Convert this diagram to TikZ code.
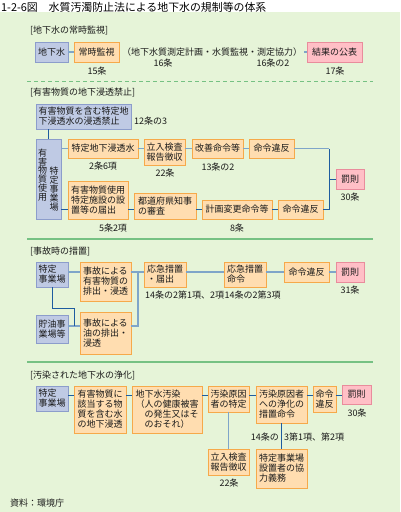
\documentclass[tikz,border=0pt]{standalone}
\usepackage{fontspec}
\setmainfont{Noto Sans CJK JP}
\definecolor{bg}{HTML}{E6F4D8}
\definecolor{bfill}{HTML}{BFCAE4}
\definecolor{bline}{HTML}{8C9DCB}
\definecolor{ofill}{HTML}{FFDDB0}
\definecolor{oline}{HTML}{F6A94A}
\definecolor{pfill}{HTML}{FFBFC6}
\definecolor{pline}{HTML}{E98C9C}
\definecolor{ltblue}{HTML}{7FA5C9}
\definecolor{dkblue}{HTML}{1E5C9F}
\definecolor{sepg}{HTML}{76C183}
\definecolor{txt}{HTML}{1A1A1A}
\newcommand\boxfont{\fontsize{9}{10}\selectfont}
\newcommand\mybox[7]{\node[#2, minimum width={(#5-#3)*1pt}, minimum height={(#6-#4)*1pt}] (#1) at ({(#3+#5)/2},{(#4+#6)/2}) {#7};}
\begin{document}
\begin{tikzpicture}[x=1pt,y=-1pt,
  bx/.style={draw, line width=0.9pt, inner sep=0pt, align=left, font=\boxfont, text=txt},
  bb/.style={bx, fill=bfill, draw=bline},
  ob/.style={bx, fill=ofill, draw=oline},
  pb/.style={bx, fill=pfill, draw=pline},
  lb/.style={inner sep=0pt, font=\boxfont, text=txt},
  lt/.style={draw=ltblue, line width=1.4pt},
  dk/.style={draw=dkblue, line width=1pt},
  sep/.style={draw=sepg, line width=1.6pt}]
\useasboundingbox (0,0) rectangle (400,512);
\fill[bg] (0,12) rectangle (400,512);
\node[anchor=west, inner sep=0pt, font=\fontsize{10.9}{12}\selectfont] (title) at (1,7) {1-2-6図\hspace{1em}水質汚濁防止法による地下水の規制等の体系};

% ---------- section 1
\node[lb, anchor=west] (h1) at (30,30) {[地下水の常時監視]};
\mybox{gw}{bb}{35}{42}{68}{62}{地下水}
\mybox{joji}{ob}{74}{42}{119}{62}{常時監視}
\mybox{kohyo}{pb}{307}{42}{362}{62}{結果の公表}
\node[lb, anchor=west] (kansi) at (122,52) {（地下水質測定計画・水質監視・測定協力）};
\node[lb] (l15) at (97,71) {15条};
\node[lb] (l16) at (163,63) {16条};
\node[lb] (l162) at (273,63) {16条の2};
\node[lb] (l17) at (335,71) {17条};
\draw[lt] (gw.east) -- (joji.west);
\draw[lt] ([xshift=2pt]kansi.east) -- (kohyo.west);
\draw[sepg, line width=1pt, dash pattern=on 4pt off 3pt] (27,81) -- (373,81);

% ---------- section 2
\node[lb, anchor=west] (h2) at (30,92) {[有害物質の地下浸透禁止]};
\mybox{kinshi}{bb}{36}{104}{131}{129}{有害物質を含む特定地\\下浸透水の浸透禁止}
\node[lb, anchor=west] (l123) at (134,121) {12条の3};
\mybox{jigyo}{bb}{36}{139}{61}{219}{}
\node[lb, align=center, font=\fontsize{9}{8.9}\selectfont] (colL) at (42.5,175) {有\\害\\物\\質\\使\\用};
\node[lb, align=center, font=\fontsize{9}{9}\selectfont] (colR) at (54,189) {特\\定\\事\\業\\場};
\mybox{shintou}{ob}{68}{139}{138}{158}{特定地下浸透水}
\node[lb] (l26) at (103,166) {2条6項};
\mybox{tachi1}{ob}{144}{139}{185}{165}{立入検査\\報告徴収}
\node[lb] (l22a) at (165,173) {22条};
\mybox{kaizen}{ob}{192}{139}{243}{158}{改善命令等}
\node[lb] (l132) at (218,167) {13条の2};
\mybox{ihan1}{ob}{249}{139}{294}{158}{命令違反}
\mybox{bassoku1}{pb}{336}{169}{364}{189}{罰則}
\node[lb] (l30a) at (350,197) {30条};
\mybox{todoke}{ob}{68}{181}{128}{219}{有害物質使用\\特定施設の設\\置等の届出}
\node[lb] (l52) at (113,228) {5条2項};
\mybox{shinsa}{ob}{134}{193}{196}{219}{都道府県知事\\の審査}
\mybox{henko}{ob}{202}{200}{272}{219}{計画変更命令等}
\node[lb] (l8) at (237,228) {8条};
\mybox{ihan2}{ob}{278}{200}{323}{219}{命令違反}
\coordinate (j1) at (329,148.5);
\draw[dk] (kinshi.south -| jigyo.north) -- (jigyo.north);
\draw[lt] (shintou.west -| jigyo.east) -- (shintou.west);
\draw[lt] (shintou.east) -- (shintou.east -| tachi1.west);
\draw[lt] (kaizen.west -| tachi1.east) -- (kaizen.west);
\draw[lt] (kaizen.east) -- (ihan1.west);
\draw[lt] (ihan1.east) -- (j1);
\draw[dk] (j1) -- (j1 |- ihan2.east) -- (ihan2.east);
\draw[dk] (j1 |- bassoku1.west) -- (bassoku1.west);
\draw[dk] (jigyo.east |- henko.west) -- (todoke.west |- henko.west);
\draw[dk] (todoke.east |- henko.west) -- (shinsa.west |- henko.west);
\draw[dk] (shinsa.east |- henko.west) -- (henko.west);
\draw[dk] (henko.east) -- (ihan2.west);
\draw[sep] (27,239) -- (373,239);

% ---------- section 3
\node[lb, anchor=west] (h3) at (30,251) {[事故時の措置]};
\mybox{tj3}{bb}{36}{262}{68}{287}{特定\\事業場}
\mybox{jiko1}{ob}{80}{262}{131}{301}{事故による\\有害物質の\\排出・浸透}
\mybox{chyu}{bb}{36}{315}{68}{343}{貯油事\\業場等}
\mybox{jiko2}{ob}{80}{312}{131}{354}{事故による\\油の排出・\\浸透}
\mybox{ok1}{ob}{144}{262}{186}{287}{応急措置\\・届出}
\mybox{ok2}{ob}{224}{262}{266}{287}{応急措置\\命令}
\mybox{ihan3}{ob}{284}{262}{329}{282}{命令違反}
\mybox{bassoku2}{pb}{336}{262}{364}{282}{罰則}
\node[lb] (l31) at (350,290) {31条};
\node[lb, anchor=west] (l3a) at (145,295) {14条の2第1項、2項};
\node[lb, anchor=west] (l3b) at (l3a.east) {14条の2第3項};
\coordinate (r3) at (0,272);
\coordinate (r3b) at (0,326);
\coordinate (j3) at (138,272);
\draw[lt] (tj3.east |- r3) -- (jiko1.west |- r3);
\draw[lt] (jiko1.east |- r3) -- (ok1.west |- r3);
\draw[lt] (jiko2.east |- r3b) -- (j3 |- r3b) -- (j3);
\draw[lt] (chyu.east |- r3b) -- (jiko2.west |- r3b);
\draw[dk] (tj3.south) -- (tj3.south |- 0,308) -- (74,308) -- (74,326);
\draw[lt] (ok1.east |- r3) -- (ok2.west |- r3);
\draw[lt] (ok2.east |- r3) -- (ihan3.west |- r3);
\draw[lt] (ihan3.east |- r3) -- (bassoku2.west |- r3);
\draw[sep] (27,362) -- (373,362);

% ---------- section 4
\node[lb, anchor=west] (h4) at (30,375) {[汚染された地下水の浄化]};
\mybox{tj4}{bb}{36}{386}{68}{411}{特定\\事業場}
\mybox{yugai4}{ob}{74}{386}{126}{433}{\fontsize{9}{10.7}\selectfont 有害物質に\\該当する物\\質を含む水\\の地下浸透}
\mybox{osen}{ob}{132}{386}{202}{433}{\fontsize{9}{10.7}\selectfont 地下水汚染\\（人の健康被害\\\hspace*{1em}の発生又はそ\\\hspace*{1em}のおそれ）}
\mybox{tokutei}{ob}{208}{386}{249}{412}{汚染原因\\者の特定}
\mybox{tachi4}{ob}{208}{449}{249}{475}{立入検査\\報告徴収}
\node[lb] (l22b) at (229,483) {22条};
\mybox{meirei4}{ob}{256}{386}{307}{423}{汚染原因者\\への浄化の\\措置命令}
\mybox{kyoryoku}{ob}{256}{449}{307}{488}{特定事業場\\設置者の協\\力義務}
\mybox{ihan4}{ob}{313}{386}{336}{412}{命令\\違反}
\mybox{bassoku3}{pb}{342}{385}{371}{404}{罰則}
\node[lb] (l30b) at (357,413) {30条};
\node[lb, anchor=east] (l4a) at (279,437) {14条の};
\node[lb, anchor=west] (l4b) at (284,437) {3第1項、第2項};
\coordinate (r4) at (0,395);
\draw[dk] (tj4.east |- r4) -- (yugai4.west |- r4);
\draw[dk] (yugai4.east |- r4) -- (osen.west |- r4);
\draw[dk] (osen.east |- r4) -- (tokutei.west |- r4);
\draw[dk] (tokutei.east |- r4) -- (meirei4.west |- r4);
\draw[dk] (meirei4.east |- r4) -- (ihan4.west |- r4);
\draw[dk] (ihan4.east |- r4) -- (bassoku3.west |- r4);
\draw[lt, line width=1.8pt] (tokutei.south) -- (tachi4.north);
\draw[dk] (meirei4.south) -- (kyoryoku.north);

\node[lb, anchor=west] (src) at (10,503) {資料：環境庁};
\end{tikzpicture}
\end{document}
